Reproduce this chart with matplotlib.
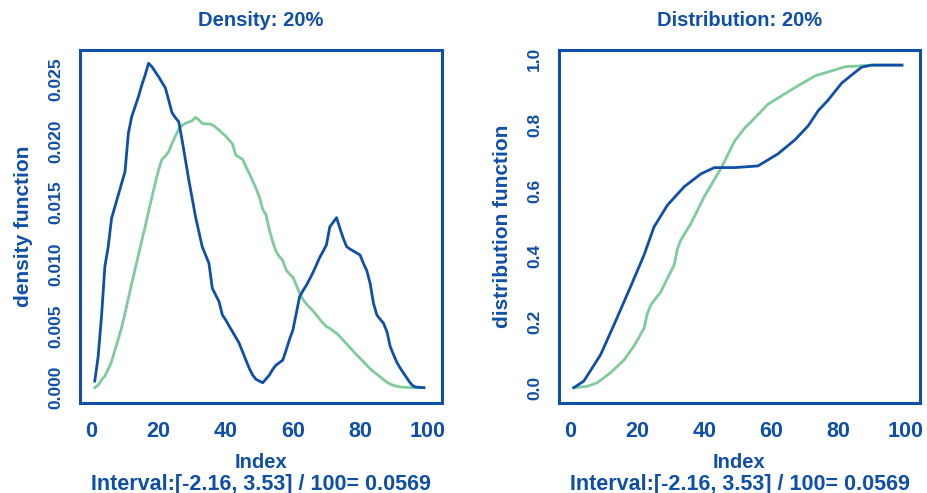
import matplotlib
matplotlib.use("Agg")
import matplotlib.pyplot as plt
import numpy as np

plt.rcParams['font.family'] = ['Liberation Sans', 'DejaVu Sans']
plt.rcParams['font.weight'] = 'bold'

BLUE = '#0F4FA8'
GREEN = '#7FCB9B'

# density, first series (dark blue), index 1..99
idx = list(range(1, 100))
density_a = [
    0.00054, 0.00251, 0.00575, 0.00980, 0.01142, 0.01372, 0.01466, 0.01561, 0.01655, 0.01749,
    0.02060, 0.02195, 0.02276, 0.02357, 0.02451, 0.02532, 0.02627, 0.02600, 0.02559, 0.02519,
    0.02473, 0.02430, 0.02330, 0.02227, 0.02187, 0.02154, 0.02006, 0.01844, 0.01682, 0.01534,
    0.01385, 0.01263, 0.01142, 0.01075, 0.01007, 0.00805, 0.00751, 0.00697, 0.00589, 0.00548,
    0.00500, 0.00454, 0.00408, 0.00360, 0.00292, 0.00224, 0.00157, 0.00103, 0.00068, 0.00054,
    0.00040, 0.00070, 0.00103, 0.00149, 0.00184, 0.00203, 0.00224, 0.00305, 0.00392, 0.00467,
    0.00602, 0.00737, 0.00786, 0.00829, 0.00880, 0.00934, 0.00994, 0.01056, 0.01105, 0.01158,
    0.01304, 0.01340, 0.01377, 0.01291, 0.01210, 0.01142, 0.01123, 0.01107, 0.01091, 0.01075,
    0.01007, 0.00948, 0.00845, 0.00683, 0.00589, 0.00554, 0.00521, 0.00454, 0.00332, 0.00265,
    0.00203, 0.00157, 0.00116, 0.00076, 0.00036, 0.00010, 0.00004, 0.00002, 0.00000,
]
# density, second series (green)
density_b = [
    0.00000, 0.00022, 0.00062, 0.00095, 0.00149, 0.00211, 0.00305, 0.00392, 0.00489, 0.00602,
    0.00724, 0.00845, 0.00959, 0.01075, 0.01190, 0.01304, 0.01425, 0.01542, 0.01655, 0.01763,
    0.01850, 0.01876, 0.01911, 0.01979, 0.02038, 0.02093, 0.02125, 0.02141, 0.02152, 0.02162,
    0.02190, 0.02168, 0.02141, 0.02136, 0.02136, 0.02130, 0.02109, 0.02087, 0.02060, 0.02038,
    0.02006, 0.01974, 0.01884, 0.01866, 0.01850, 0.01790, 0.01736, 0.01676, 0.01615, 0.01547,
    0.01445, 0.01399, 0.01277, 0.01182, 0.01101, 0.01061, 0.01029, 0.00953, 0.00921, 0.00894,
    0.00832, 0.00764, 0.00716, 0.00678, 0.00651, 0.00621, 0.00589, 0.00554, 0.00521, 0.00494,
    0.00481, 0.00459, 0.00441, 0.00413, 0.00384, 0.00354, 0.00324, 0.00295, 0.00265, 0.00238,
    0.00211, 0.00181, 0.00154, 0.00130, 0.00109, 0.00087, 0.00065, 0.00046, 0.00028, 0.00019,
    0.00011, 0.00006, 0.00003, 0.00002, 0.00001, 0.00000, 0.00000, 0.00000, 0.00000,
]

# distribution functions, read at the bends
cdf_idx_a = [1, 4, 9, 13, 18, 22, 25, 29, 34, 39, 43, 49, 56, 62, 67, 71, 74, 77, 81, 84, 87, 90, 99]
cdf_a = [0.0, 0.020, 0.100, 0.191, 0.308, 0.404, 0.490, 0.556, 0.612, 0.651, 0.670, 0.670,
         0.675, 0.712, 0.754, 0.797, 0.843, 0.876, 0.927, 0.952, 0.976, 0.982, 0.982]
cdf_idx_b = [1, 5, 8, 12, 16, 19, 22, 23, 24, 27, 31, 32, 33, 36, 40, 45, 49, 52, 54, 59, 66, 73, 82, 90, 99]
cdf_b = [0.0, 0.004, 0.015, 0.046, 0.084, 0.127, 0.181, 0.226, 0.252, 0.292, 0.374, 0.424, 0.450,
         0.500, 0.582, 0.668, 0.750, 0.790, 0.810, 0.863, 0.907, 0.949, 0.977, 0.982, 0.982]

dens_ticks = [0.0, 0.005, 0.010, 0.015, 0.020, 0.025]
dist_ticks = [0.0, 0.2, 0.4, 0.6, 0.8, 1.0]
x_ticks = [0, 20, 40, 60, 80, 100]
sub_text = "Interval:[-2.16, 3.53] / 100= 0.0569"

fig = plt.figure(figsize=(9.28, 4.93), dpi=100)
ax1 = fig.add_axes([80/928, 1-403/493, 362/928, 353/493])
ax2 = fig.add_axes([559/928, 1-403/493, 361/928, 353/493])


def style(ax, title, ylabel, yticks, fmt):
    ax.set_xlim(-3.4, 104.4)
    for s in ax.spines.values():
        s.set_color(BLUE)
        s.set_linewidth(2.2)
    ax.set_xticks(x_ticks)
    ax.set_xticklabels([str(t) for t in x_ticks], fontsize=15.5, color=BLUE, fontweight='bold')
    ax.set_yticks(yticks)
    ax.set_yticklabels([fmt % t for t in yticks], rotation=90, va='center',
                       fontsize=12.5, color=BLUE, fontweight='bold',
                       family=['Liberation Sans Narrow', 'Liberation Sans'])
    ax.tick_params(axis='x', length=0, pad=13)
    ax.tick_params(axis='y', length=0, pad=12)
    ax.set_title(title, fontsize=14.5, color=BLUE, fontweight='bold', pad=17)
    ax.set_ylabel(ylabel, fontsize=15, color=BLUE, fontweight='bold', labelpad=11)
    ax.annotate('Index', xy=(0.5, 0), xycoords='axes fraction', xytext=(0, -43),
                textcoords='offset points', ha='center', va='center',
                fontsize=14.5, color=BLUE, fontweight='bold')
    ax.annotate(sub_text, xy=(0.5, 0), xycoords='axes fraction', xytext=(0, -58.5),
                textcoords='offset points', ha='center', va='center',
                fontsize=15.5, color=BLUE, fontweight='bold')


ax1.plot(idx, density_b, color=GREEN, lw=2.0)
ax1.plot(idx, density_a, color=BLUE, lw=2.0)
ax1.set_ylim(-0.00124, 0.02735)
style(ax1, 'Density: 20%', 'density function', dens_ticks, '%.3f')

ax2.plot(cdf_idx_b, cdf_b, color=GREEN, lw=2.0)
ax2.plot(cdf_idx_a, cdf_a, color=BLUE, lw=2.0)
ax2.set_ylim(-0.0466, 1.028)
style(ax2, 'Distribution: 20%', 'distribution function', dist_ticks, '%.1f')

fig.savefig('out.png', dpi=100)
